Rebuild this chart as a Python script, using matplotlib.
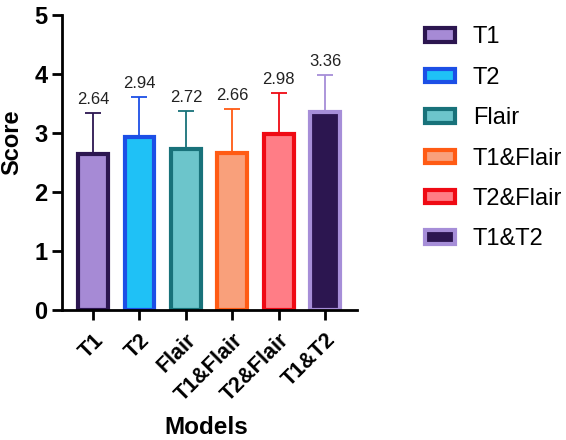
import matplotlib
matplotlib.use("Agg")
import matplotlib.pyplot as plt
from matplotlib.patches import Patch
import numpy as np

plt.rcParams['font.family'] = ['Liberation Sans', 'DejaVu Sans']

models = ["T1", "T2", "Flair", "T1&Flair", "T2&Flair", "T1&T2"]
means = [2.64, 2.94, 2.72, 2.66, 2.98, 3.36]
sds = [0.70, 0.67, 0.66, 0.75, 0.70, 0.63]
face_colors = ["#A68AD5", "#1FC1F6", "#6CC5CB", "#F9A07B", "#FF7D86", "#2C1650"]
edge_colors = ["#2C1650", "#1C4FE6", "#18727A", "#FF5B14", "#EF0A14", "#A68ED8"]

fig = plt.figure(figsize=(5.66, 4.40), dpi=100)
ax = fig.add_axes([0.1095, 0.2955, 0.5215, 0.6705])

x = np.arange(len(models))
for i in range(len(models)):
    ax.errorbar(x[i], means[i], yerr=[[0], [sds[i]]], color=edge_colors[i],
                lw=1.3, capsize=6, capthick=1.3, zorder=1)
    ax.bar(x[i], means[i], width=0.64, color=face_colors[i],
           edgecolor=edge_colors[i], linewidth=3, zorder=2)
    ax.text(x[i], means[i] + sds[i] + 0.1, f"{means[i]:.2f}", ha='center',
            va='bottom', fontsize=12, color='#222222')

ax.set_xlim(-0.67, 5.69)
ax.set_ylim(0, 5)
ax.set_yticks([0, 1, 2, 3, 4, 5])
ax.set_xticks(x)
ax.set_xticklabels(models, rotation=45, ha='right', rotation_mode='anchor',
                   fontsize=15.5, fontweight='bold')
for lab in ax.get_yticklabels():
    lab.set_fontsize(17)
    lab.set_fontweight('bold')
ax.spines['top'].set_visible(False)
ax.spines['right'].set_visible(False)
ax.spines['left'].set_linewidth(2)
ax.spines['bottom'].set_linewidth(2)
ax.tick_params(axis='both', width=2, length=7, color='black')
ax.tick_params(axis='x', pad=7)
ax.set_ylabel("Score", fontsize=17, fontweight='bold')
ax.yaxis.set_label_coords(-0.13, 0.57)
ax.set_xlabel("Models", fontsize=17.5, fontweight='bold', va='baseline')
ax.xaxis.set_label_coords(0.488, -0.42)

handles = [Patch(facecolor=face_colors[i], edgecolor=edge_colors[i], linewidth=3,
                 label=models[i]) for i in range(len(models))]
fig.legend(handles=handles, loc='upper left', bbox_to_anchor=(0.751, 0.94),
           frameon=False, fontsize=17, handlelength=1.27, handleheight=0.5,
           handletextpad=0.76, labelspacing=0.78, borderpad=0, borderaxespad=0)

fig.savefig("out.png", dpi=100)
